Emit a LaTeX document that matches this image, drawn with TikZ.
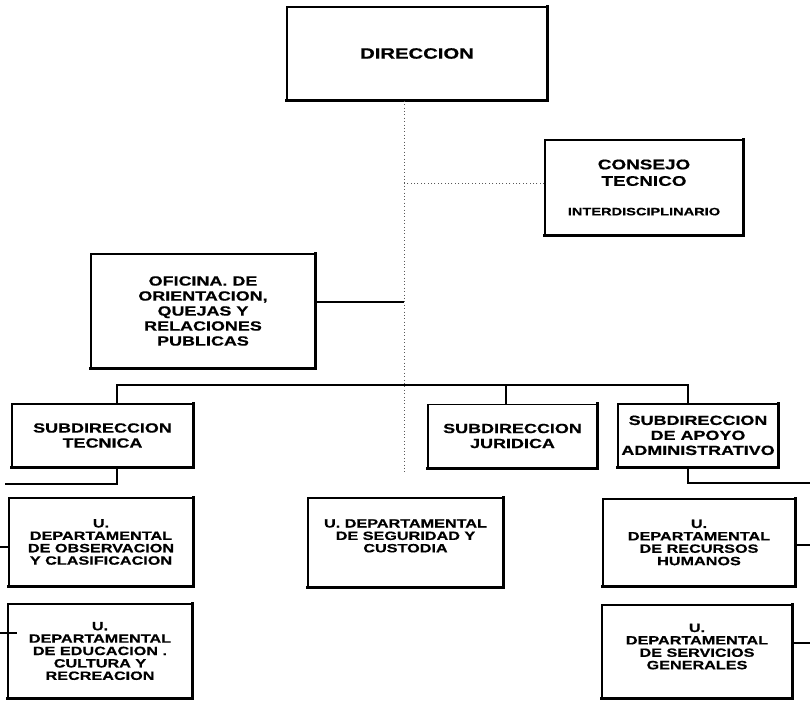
\documentclass[tikz,border=0pt]{standalone}
\usepackage{fontspec}
\setmainfont{Liberation Sans}[FakeStretch=1.35,BoldFeatures={FakeBold=0.6}]
\begin{document}
\begin{tikzpicture}[x=1pt,y=-1pt,
  box/.style={draw,line width=1.5pt,inner sep=0pt,align=center},
  heavy/.style={line width=2.6pt,line cap=rect},
  link/.style={line width=1.1pt},
  dots/.style={line width=0.9pt,gray!70!black,dash pattern=on 1pt off 2.4pt},
  tA/.style={font=\bfseries\fontsize{15}{18}\selectfont},
  tB/.style={font=\bfseries\fontsize{14}{16.5}\selectfont},
  tC/.style={font=\bfseries\fontsize{13.3}{15}\selectfont},
  tD/.style={font=\bfseries\fontsize{12}{12.4}\selectfont}]
\fill[white] (0,0) rectangle (810,708);
\useasboundingbox (0,0) rectangle (810,708);

% boxes
\node[box,tA,minimum width=260pt,minimum height=93pt] (dir) at (417,53.5) {DIRECCION};
\node[box,tB,minimum width=198pt,minimum height=95pt] (consejo) at (644,187.5)
  {CONSEJO\\TECNICO\\[13pt]{\fontsize{10.8}{13}\selectfont INTERDISCIPLINARIO}};
\node[box,tC,minimum width=224pt,minimum height=114pt] (oficina) at (203,311)
  {OFICINA. DE\\ORIENTACION,\\QUEJAS Y\\RELACIONES\\PUBLICAS};
\node[box,tC,minimum width=181pt,minimum height=63pt] (tecnica) at (102.5,435.5)
  {SUBDIRECCION\\TECNICA};
\node[box,tC,minimum width=169pt,minimum height=63pt] (juridica) at (512.5,436)
  {SUBDIRECCION\\JURIDICA};
\node[box,tC,minimum width=160pt,minimum height=63pt] (apoyo) at (698,435.5)
  {\mbox{}\\[-6pt]SUBDIRECCION\\DE APOYO\\ADMINISTRATIVO};
\node[box,tD,minimum width=184pt,minimum height=88pt] (observacion) at (101,542)
  {U.\\DEPARTAMENTAL\\DE OBSERVACION\\Y CLASIFICACION};
\node[box,tD,minimum width=184pt,minimum height=94pt] (educacion) at (100,651)
  {U.\\DEPARTAMENTAL\\DE EDUCACION .\\CULTURA Y\\RECREACION};
\node[box,tD,minimum width=195pt,minimum height=89pt] (custodia) at (405.5,542.5)
  {U. DEPARTAMENTAL\\DE SEGURIDAD Y\\CUSTODIA\\[1pt]\mbox{}};
\node[box,tD,minimum width=192pt,minimum height=87pt] (recursos) at (699,542.5)
  {U.\\DEPARTAMENTAL\\DE RECURSOS\\HUMANOS};
\node[box,tD,minimum width=190pt,minimum height=93pt] (servicios) at (697,651.5)
  {U.\\DEPARTAMENTAL\\DE SERVICIOS\\GENERALES\\[-2.4pt]\mbox{}};

\foreach \n in {dir,consejo,oficina,tecnica,juridica,apoyo,observacion,educacion,custodia,recursos,servicios}
  \draw[heavy] (\n.north east) -- (\n.south east) -- (\n.south west);

% coordinates
\coordinate (spine) at (404,472);
\coordinate (cons-j) at (404,183);
\coordinate (ofi-j) at (404,302);
\coordinate (barL) at (117,385);
\coordinate (barJ) at (506,385);
\coordinate (barR) at (688,385);
\coordinate (tecA) at (117,484);
\coordinate (tecB) at (5,484);
\coordinate (apoA) at (688,483);
\coordinate (apoB) at (810,483);
\coordinate (obsS) at (0,547);
\coordinate (eduS) at (0,633);
\coordinate (recS) at (810,545);
\coordinate (serS) at (810,643);

% connectors
\draw[dots] (dir.south -| spine) -- (spine);
\draw[dots] (consejo.west |- cons-j) -- (cons-j);
\draw[link] (oficina.east |- ofi-j) -- (ofi-j);
\draw[link] (tecnica.north -| barL) -- (barL) -- (barR) -- (apoyo.north -| barR);
\draw[link] (barJ) -- (juridica.north -| barJ);
\draw[link] (tecnica.south -| tecA) -- (tecA) -- (tecB);
\draw[link] (apoyo.south -| apoA) -- (apoA) -- (apoB);
\draw[link] (obsS) -- (observacion.west |- obsS);
\draw[link] (eduS) -- ([xshift=10pt]educacion.west |- eduS);
\draw[link] (recursos.east |- recS) -- (recS);
\draw[link] (servicios.east |- serS) -- (serS);
\end{tikzpicture}
\end{document}
